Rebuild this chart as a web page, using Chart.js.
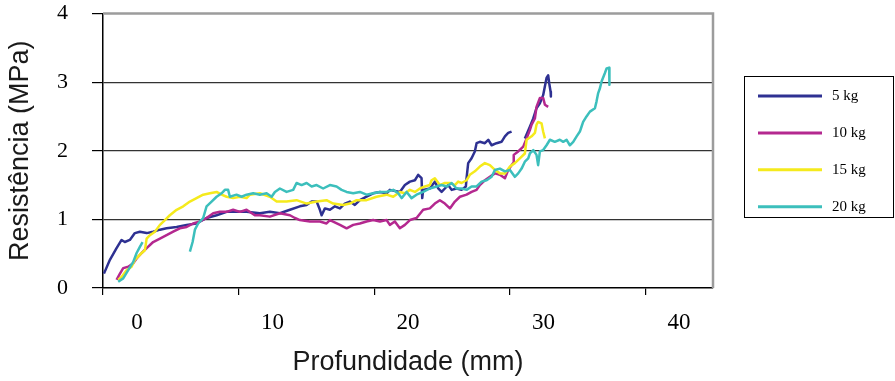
<!DOCTYPE html>
<html>
<head>
<meta charset="utf-8">
<script src="https://cdn.jsdelivr.net/npm/chart.js@4/dist/chart.umd.min.js"></script>
<style>
html,body{margin:0;padding:0;background:#fff;}
#wrap{width:895px;height:381px;position:relative;}
</style>
</head>
<body>
<div id="wrap"><canvas id="c"></canvas></div>
<script>
// ---- data ----
const seriesNames = ['5 kg', '10 kg', '15 kg', '20 kg'];

const depth5 = [-2.43,-1.99,-1.50,-1.13,-0.89,-0.52,-0.15,0.22,0.72,1.20,1.70,2.19,2.93,3.67,4.40,5.14,5.88,6.62,7.35,8.09,9.07,9.81,10.55,11.29,12.02,12.52,12.89,13.26,13.50,13.63,13.87,14.24,14.61,14.98,15.34,15.71,16.08,16.45,16.94,17.43,17.93,18.42,18.66,19.40,19.77,20.14,20.51,20.75,21.00,21.05,21.12,21.61,21.98,22.23,22.48,22.72,22.96,23.22,23.58,23.95,24.27,24.32,24.44,24.69,24.93,25.06,25.30,25.67,25.92,26.17,26.53,26.90,27.15,27.39,27.64,null,28.62,28.99,29.24,29.48,29.73,29.97,30.10,30.22,30.34,30.42,30.52,30.54];
const res5 = [0.21,0.41,0.58,0.70,0.67,0.70,0.80,0.82,0.80,0.82,0.85,0.87,0.89,0.92,0.94,1.02,1.06,1.11,1.11,1.11,1.09,1.11,1.09,1.14,1.19,1.21,1.26,1.26,1.14,1.06,1.16,1.14,1.19,1.16,1.23,1.26,1.21,1.28,1.33,1.38,1.40,1.38,1.43,1.40,1.50,1.55,1.57,1.65,1.60,1.31,1.43,1.45,1.55,1.45,1.40,1.45,1.50,1.43,1.45,1.43,1.48,1.60,1.82,1.89,1.99,2.11,2.13,2.11,2.16,2.08,2.11,2.13,2.21,2.26,2.28,null,2.18,2.35,2.47,2.62,2.69,2.81,2.94,3.06,3.10,2.98,2.86,2.79];

const depth10 = [-1.50,-1.25,-1.01,-0.64,-0.27,-0.02,0.35,0.72,1.20,1.70,2.19,2.68,3.17,3.67,4.15,4.65,5.14,5.63,6.12,6.62,7.10,7.60,8.09,8.70,9.07,9.81,10.55,11.29,11.66,12.02,12.76,13.50,13.99,14.24,14.98,15.47,15.96,16.45,16.94,17.43,17.93,18.42,18.66,19.03,19.40,19.77,20.14,20.63,21.12,21.61,21.98,22.35,22.72,23.09,23.46,23.83,24.32,24.69,25.06,25.30,25.67,26.04,26.41,26.78,27.15,27.39,27.76,27.80,28.13,28.50,28.75,28.99,29.12,29.36,29.48,29.73,29.97,30.10,30.34];
const res10 = [0.12,0.21,0.29,0.31,0.36,0.43,0.51,0.58,0.67,0.72,0.77,0.82,0.87,0.89,0.94,0.97,1.02,1.09,1.11,1.11,1.14,1.11,1.14,1.06,1.06,1.04,1.09,1.06,1.02,0.99,0.97,0.97,0.94,0.99,0.92,0.87,0.92,0.94,0.97,0.99,0.97,0.99,0.92,0.97,0.87,0.92,0.99,1.02,1.14,1.16,1.23,1.28,1.23,1.16,1.26,1.33,1.36,1.40,1.43,1.50,1.57,1.62,1.67,1.65,1.60,1.72,1.82,1.94,1.99,2.06,2.18,2.30,2.38,2.47,2.64,2.77,2.77,2.67,2.64];

const depth15 = [-1.38,-1.13,-0.76,-0.39,-0.15,0.35,0.59,0.72,0.96,1.33,1.70,2.07,2.43,2.93,3.42,3.91,4.40,4.89,5.39,5.88,6.25,6.62,7.10,7.60,8.09,8.34,9.07,9.81,10.31,11.04,11.78,12.52,13.26,13.99,14.48,15.22,15.71,16.21,16.94,17.68,18.42,18.91,19.40,19.77,20.14,20.51,20.88,21.25,21.61,21.74,21.98,22.35,22.72,23.09,23.46,23.70,23.95,24.32,24.56,24.93,25.30,25.67,26.04,26.41,26.78,27.15,27.52,27.88,28.25,28.62,28.75,29.12,29.36,29.48,29.60,29.85,29.97,30.10];
const res15 = [0.12,0.16,0.26,0.31,0.41,0.51,0.55,0.72,0.77,0.82,0.92,0.99,1.06,1.14,1.19,1.26,1.31,1.36,1.38,1.40,1.36,1.33,1.31,1.33,1.31,1.36,1.38,1.33,1.26,1.26,1.28,1.23,1.26,1.28,1.23,1.21,1.23,1.28,1.28,1.33,1.36,1.33,1.40,1.38,1.43,1.40,1.45,1.48,1.50,1.57,1.60,1.50,1.53,1.53,1.50,1.55,1.53,1.57,1.65,1.70,1.77,1.82,1.79,1.72,1.67,1.67,1.77,1.82,1.89,1.96,2.16,2.21,2.26,2.38,2.42,2.40,2.28,2.18];

const depth20 = [-1.38,-1.01,-0.64,-0.27,-0.02,0.22,0.42,null,3.91,4.11,4.28,4.52,4.89,5.14,5.51,5.88,6.25,6.49,6.73,6.86,7.35,7.72,8.09,8.58,9.07,9.57,9.94,10.18,10.55,11.04,11.53,11.78,12.15,12.52,12.89,13.26,13.74,14.24,14.73,15.10,15.47,15.96,16.45,16.94,17.43,17.93,18.42,18.91,19.28,19.53,19.90,20.26,20.63,21.12,21.61,22.11,22.48,22.85,23.22,23.58,23.95,24.32,24.69,25.06,25.43,25.80,26.17,26.41,26.78,27.15,27.52,27.88,28.13,28.38,28.62,28.87,28.99,29.24,29.48,29.60,29.73,29.97,30.22,30.47,30.83,31.20,31.45,31.70,31.94,32.19,32.44,32.68,32.80,32.92,33.17,33.42,33.79,33.91,34.03,34.16,34.28,34.52,34.65,34.84,34.86];
const res20 = [0.09,0.14,0.26,0.38,0.51,0.60,0.67,null,0.53,0.67,0.85,0.94,1.02,1.19,1.26,1.33,1.38,1.43,1.43,1.33,1.36,1.33,1.36,1.38,1.36,1.38,1.33,1.40,1.45,1.40,1.43,1.53,1.50,1.53,1.48,1.50,1.45,1.50,1.48,1.43,1.40,1.38,1.40,1.36,1.38,1.40,1.40,1.43,1.38,1.31,1.40,1.31,1.36,1.40,1.45,1.48,1.50,1.48,1.53,1.45,1.45,1.43,1.48,1.48,1.55,1.57,1.62,1.72,1.74,1.70,1.72,1.62,1.67,1.74,1.84,1.89,1.96,2.01,1.94,1.79,1.99,2.01,2.08,2.16,2.13,2.16,2.13,2.16,2.08,2.13,2.21,2.28,2.35,2.42,2.50,2.57,2.62,2.72,2.84,2.91,3.01,3.13,3.20,3.21,2.96];

const yTickValues = [0, 1, 2, 3, 4];
const xLabelValues = [0, 10, 20, 30, 40];
const xTickMarkValues = [-2.5, 7.5, 17.5, 27.5, 37.5];

// ---- styling ----
const seriesColors = ['#2E3192', '#B4288F', '#F5EA1C', '#3CBFBC'];
const depthArrays = [depth5, depth10, depth15, depth20];
const resArrays = [res5, res10, res15, res20];

function toPoints(xs, ys) {
  return xs.map((x, i) => ({ x: x, y: ys[i] }));
}

const datasets = seriesNames.map((name, i) => ({
  label: name,
  data: toPoints(depthArrays[i], resArrays[i]),
  borderColor: seriesColors[i],
  backgroundColor: seriesColors[i],
  borderWidth: 2.5,
  pointRadius: 0,
  showLine: true,
  tension: 0,
  spanGaps: false,
  borderJoinStyle: 'round',
  order: seriesNames.length - i
}));

const frameBorder = {
  id: 'frameBorder',
  beforeDatasetsDraw(chart) {
    const { ctx, chartArea: a } = chart;
    ctx.save();
    ctx.strokeStyle = '#9c9c9c';
    ctx.lineWidth = 2.5;
    ctx.beginPath();
    ctx.moveTo(a.left, a.top);
    ctx.lineTo(a.right, a.top);
    ctx.lineTo(a.right, a.bottom);
    ctx.stroke();
    ctx.restore();
  }
};

const boxLegend = {
  id: 'boxLegend',
  afterDraw(chart) {
    const { ctx, chartArea: a } = chart;
    const L = a.right + 31, T = 76, W = 149, H = 141;
    ctx.save();
    ctx.strokeStyle = '#000';
    ctx.lineWidth = 1;
    ctx.strokeRect(L + 0.5, T + 0.5, W, H);
    ctx.font = '15px "Liberation Serif"';
    ctx.textBaseline = 'middle';
    ctx.textAlign = 'left';
    chart.data.datasets.forEach((ds, i) => {
      const y = T + 20 + i * 36.9;
      ctx.strokeStyle = ds.borderColor;
      ctx.lineWidth = 3;
      ctx.beginPath();
      ctx.moveTo(L + 14, y);
      ctx.lineTo(L + 78, y);
      ctx.stroke();
      ctx.fillStyle = '#000';
      ctx.fillText(ds.label, L + 88, y);
    });
    ctx.restore();
  }
};

new Chart(document.getElementById('c'), {
  type: 'scatter',
  data: { datasets: datasets },
  options: {
    responsive: true,
    maintainAspectRatio: false,
    animation: false,
    layout: { padding: { top: 13.5, right: 182, bottom: 0, left: 0 } },
    plugins: { legend: { display: false }, tooltip: { enabled: false } },
    scales: {
      x: {
        type: 'linear', position: 'bottom', min: -2.5, max: 42.5, weight: 0,
        afterBuildTicks: s => { s.ticks = xTickMarkValues.map(v => ({ value: v })); },
        afterFit: s => { s.height = 7; s.paddingLeft = 0; s.paddingRight = 0; },
        ticks: { display: false },
        grid: { drawOnChartArea: false, drawTicks: true, tickLength: 7, color: '#000', lineWidth: 1.2 },
        border: { color: '#000', width: 1.5 }
      },
      xl: {
        type: 'linear', position: 'bottom', min: -2.5, max: 42.5, weight: 1,
        afterBuildTicks: s => { s.ticks = xLabelValues.map(v => ({ value: v })); },
        afterFit: s => { s.height = 86; s.paddingLeft = 0; s.paddingRight = 0; },
        ticks: { font: { family: 'Liberation Serif', size: 23 }, color: '#000', padding: 14, maxRotation: 0, autoSkip: false },
        grid: { display: false, drawTicks: false },
        border: { display: false },
        title: { display: true, text: 'Profundidade (mm)', color: '#1a1a1a',
                 font: { family: 'Liberation Sans', size: 27 }, padding: { top: 0, bottom: 2 } }
      },
      y: {
        type: 'linear', min: 0, max: 4,
        afterBuildTicks: s => { s.ticks = yTickValues.map(v => ({ value: v })); },
        afterFit: s => { s.width = 103; s.paddingTop = 0; s.paddingBottom = 0; },
        ticks: { font: { family: 'Liberation Serif', size: 22 }, color: '#000', padding: 24 },
        grid: {
          color: c => (c.tick && c.tick.value > 0 && c.tick.value < 4) ? '#333' : 'rgba(0,0,0,0)',
          tickColor: '#000', tickLength: 11, lineWidth: 1.2
        },
        border: { color: '#000', width: 1.5 },
        title: { display: true, text: 'Resistência (MPa)', color: '#1a1a1a',
                 font: { family: 'Liberation Sans', size: 27 }, padding: { top: 4, bottom: 0 } }
      }
    }
  },
  plugins: [frameBorder, boxLegend]
});
</script>
</body>
</html>
